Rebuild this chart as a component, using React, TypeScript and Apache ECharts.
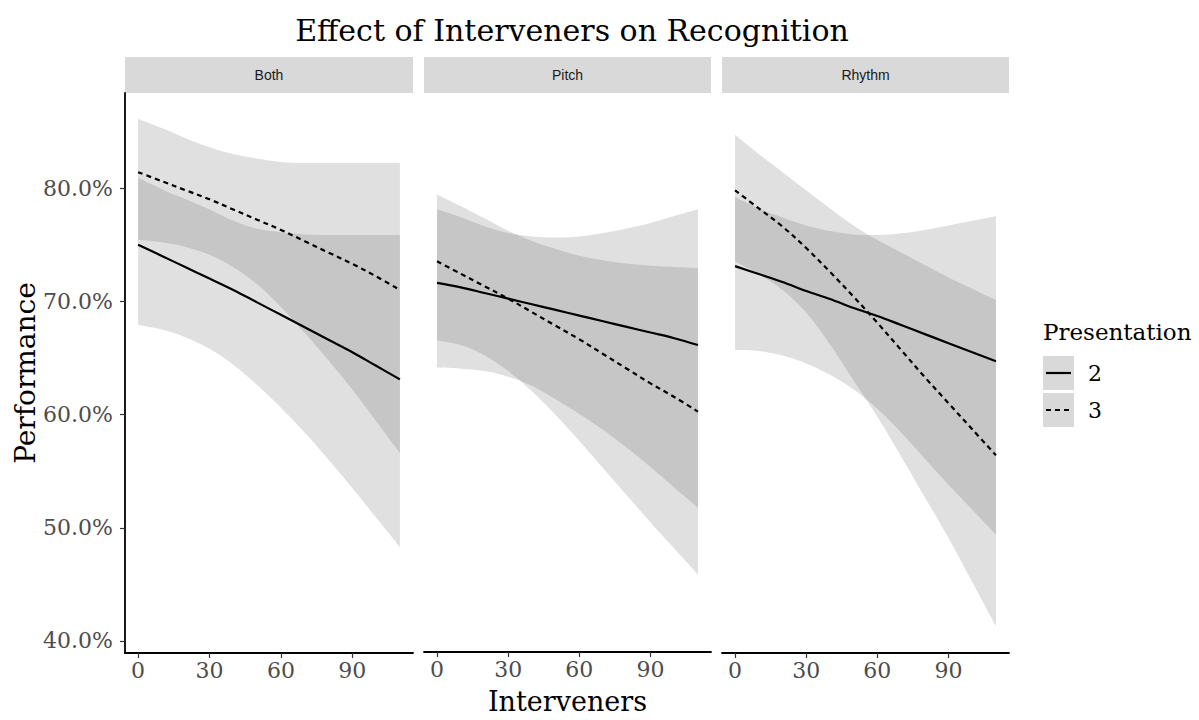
import React, { useEffect, useRef } from "react";
import * as echarts from "echarts";

// ---------- data ----------
const interveners = [0, 10, 20, 30, 40, 50, 60, 70, 80, 90, 100, 110];
const facetNames = ["Both", "Pitch", "Rhythm"];
const presentationLevels = ["2", "3"];
const xTickValues = [0, 30, 60, 90];
const yTickValues = [40, 50, 60, 70, 80];

// Both
const bothFit2 = [75.0, 74.0, 73.0, 72.0, 71.0, 69.9, 68.8, 67.7, 66.6, 65.5, 64.3, 63.1];
const bothFit3 = [81.4, 80.6, 79.8, 79.0, 78.1, 77.2, 76.3, 75.3, 74.3, 73.3, 72.2, 71.0];
const bothLow2 = [67.9, 67.5, 66.8, 65.8, 64.4, 62.6, 60.6, 58.4, 56.0, 53.5, 50.9, 48.3];
const bothHigh2 = [80.9, 79.9, 79.0, 78.1, 77.1, 76.4, 76.1, 75.9, 75.85, 75.85, 75.85, 75.85];
const bothLow3 = [75.4, 75.2, 74.8, 74.1, 73.0, 71.5, 69.5, 67.2, 64.8, 62.2, 59.4, 56.6];
const bothHigh3 = [86.1, 85.3, 84.4, 83.6, 83.0, 82.6, 82.3, 82.2, 82.2, 82.2, 82.2, 82.2];

// Pitch
const pitchFit2 = [71.6, 71.2, 70.7, 70.2, 69.7, 69.2, 68.7, 68.2, 67.7, 67.2, 66.7, 66.1];
const pitchFit3 = [73.5, 72.4, 71.3, 70.2, 69.0, 67.8, 66.6, 65.3, 64.0, 62.7, 61.5, 60.2];
const pitchLow2 = [64.1, 64.0, 63.8, 63.3, 62.5, 61.3, 60.0, 58.6, 57.0, 55.3, 53.5, 51.7];
const pitchHigh2 = [78.1, 77.4, 76.6, 76.0, 75.7, 75.6, 75.7, 76.0, 76.4, 76.9, 77.5, 78.1];
const pitchLow3 = [66.5, 66.1, 65.2, 63.8, 62.0, 59.9, 57.6, 55.2, 52.8, 50.4, 48.1, 45.8];
const pitchHigh3 = [79.4, 78.4, 77.3, 76.2, 75.3, 74.6, 74.0, 73.6, 73.3, 73.1, 73.0, 72.9];

// Rhythm
const rhythmFit2 = [73.1, 72.4, 71.7, 70.9, 70.2, 69.4, 68.7, 67.9, 67.1, 66.3, 65.5, 64.7];
const rhythmFit3 = [79.8, 78.2, 76.6, 74.7, 72.6, 70.4, 68.1, 65.7, 63.3, 61.0, 58.7, 56.4];
const rhythmLow2 = [65.7, 65.6, 65.2, 64.5, 63.5, 62.2, 60.5, 58.4, 56.1, 53.8, 51.6, 49.4];
const rhythmHigh2 = [79.2, 78.2, 77.4, 76.7, 76.2, 75.9, 75.85, 76.0, 76.3, 76.7, 77.1, 77.5];
const rhythmLow3 = [73.5, 72.4, 71.0, 69.0, 66.2, 63.0, 59.8, 56.3, 52.7, 49.1, 45.2, 41.3];
const rhythmHigh3 = [84.7, 83.0, 81.4, 79.8, 78.2, 76.7, 75.4, 74.3, 73.2, 72.1, 71.1, 70.1];

const fits = [
  [bothFit2, bothFit3],
  [pitchFit2, pitchFit3],
  [rhythmFit2, rhythmFit3],
];
const lows = [
  [bothLow2, bothLow3],
  [pitchLow2, pitchLow3],
  [rhythmLow2, rhythmLow3],
];
const highs = [
  [bothHigh2, bothHigh3],
  [pitchHigh2, pitchHigh3],
  [rhythmHigh2, rhythmHigh3],
];

// ---------- styling ----------
const SERIF = "'DejaVu Serif', serif";
const SANS = "'Liberation Sans', Arial, sans-serif";
const RIBBON = "rgba(60,60,60,0.16)";
const GRID_LEFT = [125, 424, 722];
const GRID_WIDTH = [288, 287, 287];
const GRID_TOP = 93;
const GRID_HEIGHT = 560;
const X_MIN = -5.5;
const X_MAX = 115.5;
const Y_MIN = 38.94;
const Y_MAX = 88.39;
const SMOOTH = 0.35;

function buildOption() {
  const grids = GRID_LEFT.map((l, i) => ({
    left: l,
    top: GRID_TOP,
    width: GRID_WIDTH[i],
    height: GRID_HEIGHT,
    containLabel: false,
  }));

  const xAxes = GRID_LEFT.map((_, i) => ({
    type: "value",
    gridIndex: i,
    min: X_MIN,
    max: X_MAX,
    axisLine: { show: true, onZero: false, lineStyle: { color: "#000", width: 1.8 } },
    axisTick: {
      show: true,
      customValues: xTickValues,
      length: 5,
      lineStyle: { color: "#333", width: 1.2 },
    },
    axisLabel: {
      show: true,
      customValues: xTickValues,
      color: "#4d4d4d",
      fontFamily: SERIF,
      fontSize: 22,
      margin: 6,
    },
    splitLine: { show: false },
    ...(i === 1
      ? {
          name: "Interveners",
          nameLocation: "middle",
          nameGap: 36,
          nameTextStyle: { fontFamily: SERIF, fontSize: 27, color: "#000" },
        }
      : {}),
  }));

  const yAxes = GRID_LEFT.map((_, i) => ({
    type: "value",
    gridIndex: i,
    min: Y_MIN,
    max: Y_MAX,
    show: i === 0,
    axisLine: { show: true, onZero: false, lineStyle: { color: "#000", width: 1.8 } },
    axisTick: {
      show: true,
      customValues: yTickValues,
      length: 5,
      lineStyle: { color: "#333", width: 1.2 },
    },
    axisLabel: {
      show: true,
      customValues: yTickValues,
      color: "#4d4d4d",
      fontFamily: SERIF,
      fontSize: 22,
      margin: 12,
      formatter: (v: number) => v.toFixed(1) + "%",
    },
    splitLine: { show: false },
    ...(i === 0
      ? {
          name: "Performance",
          nameLocation: "middle",
          nameGap: 72,
          nameRotate: 90,
          nameTextStyle: { fontFamily: SERIF, fontSize: 28, color: "#000" },
        }
      : {}),
  }));

  const series: any[] = [];
  facetNames.forEach((facet, p) => {
    presentationLevels.forEach((lvl, k) => {
      const hi = highs[p][k];
      const lo = lows[p][k];
      const stackId = facet + "-ribbon-" + lvl;
      // value first, x second, so the stack applies to the y dimension
      series.push({
        type: "line",
        name: facet + " lower " + lvl,
        xAxisIndex: p,
        yAxisIndex: p,
        stack: stackId,
        encode: { x: 1, y: 0 },
        z: 1,
        silent: true,
        showSymbol: false,
        smooth: SMOOTH,
        lineStyle: { opacity: 0, width: 0 },
        data: interveners.map((x, i) => [lo[i], x]),
      });
      series.push({
        type: "line",
        name: facet + " band " + lvl,
        xAxisIndex: p,
        yAxisIndex: p,
        stack: stackId,
        encode: { x: 1, y: 0 },
        z: 1,
        silent: true,
        showSymbol: false,
        smooth: SMOOTH,
        lineStyle: { opacity: 0, width: 0 },
        areaStyle: { color: RIBBON, opacity: 1 },
        data: interveners.map((x, i) => [hi[i] - lo[i], x]),
      });
    });
    presentationLevels.forEach((lvl, k) => {
      series.push({
        type: "line",
        name: lvl,
        xAxisIndex: p,
        yAxisIndex: p,
        z: 3,
        showSymbol: false,
        silent: true,
        smooth: SMOOTH,
        data: interveners.map((x, i) => [x, fits[p][k][i]]),
        lineStyle: {
          color: "#000",
          width: 2.2,
          type: k === 0 ? "solid" : [5, 4],
        },
      });
    });
  });

  const graphics: any[] = [];
  facetNames.forEach((facet, p) => {
    graphics.push({
      type: "rect",
      shape: { x: GRID_LEFT[p], y: 57, width: GRID_WIDTH[p], height: 36 },
      style: { fill: "#d9d9d9" },
      silent: true,
    });
    graphics.push({
      type: "text",
      x: GRID_LEFT[p] + GRID_WIDTH[p] / 2,
      y: 75,
      style: {
        text: facet,
        fill: "#1a1a1a",
        font: `14px ${SANS}`,
        textAlign: "center",
        textVerticalAlign: "middle",
      },
      silent: true,
    });
  });

  // legend
  graphics.push({
    type: "text",
    x: 1043,
    y: 332,
    style: {
      text: "Presentation",
      fill: "#000",
      font: `23px ${SERIF}`,
      textAlign: "left",
      textVerticalAlign: "middle",
    },
  });
  presentationLevels.forEach((lvl, k) => {
    const top = 356 + k * 37;
    graphics.push({
      type: "rect",
      shape: { x: 1043, y: top, width: 31, height: 34 },
      style: { fill: "#d9d9d9" },
    });
    graphics.push({
      type: "line",
      shape: { x1: 1046, y1: top + 17, x2: 1071, y2: top + 17 },
      style: {
        stroke: "#000",
        lineWidth: 2.2,
        lineDash: k === 0 ? null : [5, 4],
      },
    });
    graphics.push({
      type: "text",
      x: 1088,
      y: top + 17,
      style: {
        text: lvl,
        fill: "#000",
        font: `22px ${SERIF}`,
        textAlign: "left",
        textVerticalAlign: "middle",
      },
    });
  });

  return {
    animation: false,
    backgroundColor: "#ffffff",
    title: {
      text: "Effect of Interveners on Recognition",
      left: 567,
      top: 10,
      textAlign: "center",
      textStyle: { fontFamily: SERIF, fontSize: 30, fontWeight: "normal", color: "#000" },
    },
    grid: grids,
    xAxis: xAxes,
    yAxis: yAxes,
    series,
    graphic: graphics,
  };
}

export default function App() {
  const ref = useRef<HTMLDivElement>(null);
  useEffect(() => {
    if (!ref.current) return;
    const chart = echarts.init(ref.current, null, { renderer: "svg" });
    chart.setOption(buildOption() as any);
    return () => chart.dispose();
  }, []);
  return (
    <div
      ref={ref}
      style={{ position: "fixed", left: 0, top: 0, width: 1199, height: 720, background: "#fff" }}
    />
  );
}
